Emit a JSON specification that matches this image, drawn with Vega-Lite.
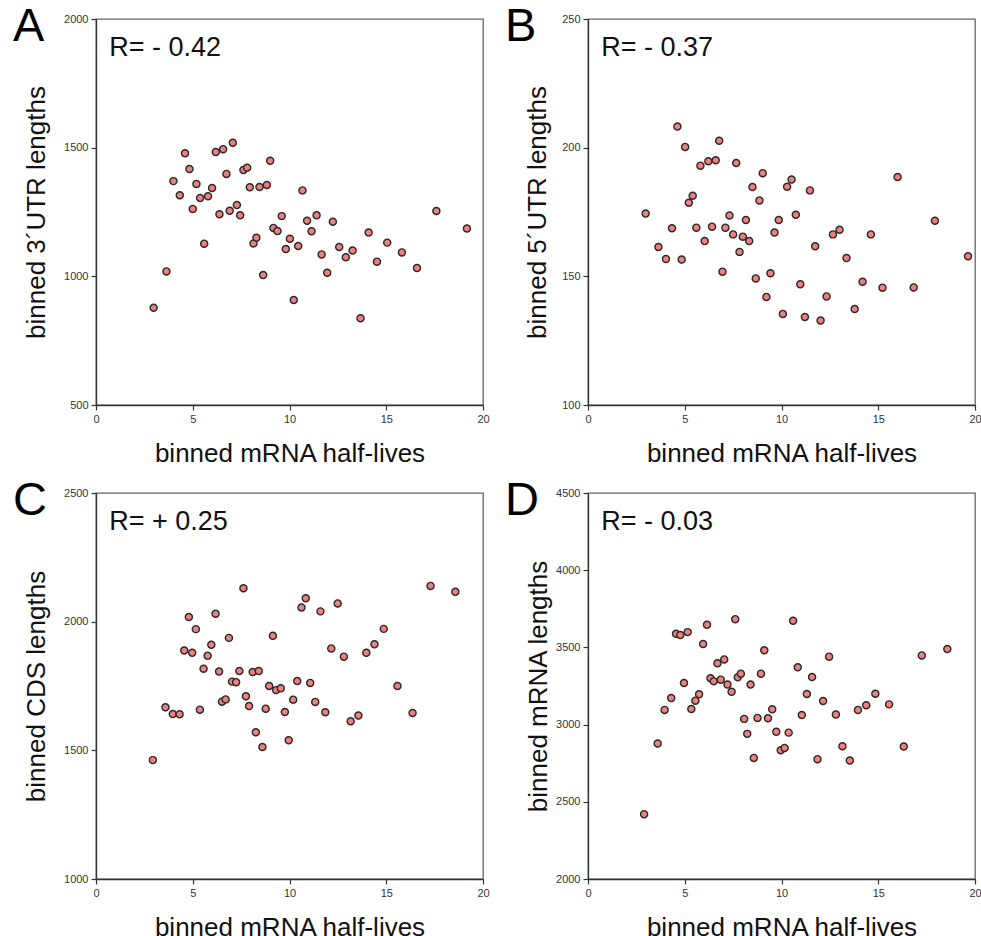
{
  "$schema": "https://vega.github.io/schema/vega-lite/v6.json",
  "background": "white",
  "padding": {"left": 12, "top": 2, "right": 0, "bottom": 0},
  "columns": 2,
  "spacing": {"column": 14, "row": 9},
  "config": {
    "font": "Liberation Sans",
    "view": {"stroke": "#666", "strokeWidth": 1.3},
    "axis": {
      "grid": false,
      "domainColor": "#333",
      "domainWidth": 1.3,
      "tickColor": "#333",
      "tickWidth": 1.2,
      "tickSize": 5,
      "labelFont": "Liberation Sans",
      "labelFontSize": 11,
      "labelColor": "#333",
      "labelPadding": 3,
      "labelFlush": false,
      "format": "d",
      "titleFont": "Liberation Sans",
      "titleFontSize": 26,
      "titleFontWeight": "normal",
      "titleColor": "#111"
    },
    "axisX": {"titlePadding": 16},
    "title": {"font": "Liberation Sans", "fontSize": 47, "fontWeight": "normal", "color": "#000", "anchor": "start", "frame": "group", "baseline": "top", "offset": 0, "dx": -83, "dy": 42}
  },
  "datasets": {
    "A": [
      {"halflife": 2.98, "length": 878}, {"halflife": 3.64, "length": 1019}, {"halflife": 4.0, "length": 1370}, {"halflife": 4.33, "length": 1315},
      {"halflife": 4.6, "length": 1478}, {"halflife": 4.83, "length": 1417}, {"halflife": 5.0, "length": 1262}, {"halflife": 5.19, "length": 1359},
      {"halflife": 5.38, "length": 1304}, {"halflife": 5.59, "length": 1127}, {"halflife": 5.79, "length": 1311}, {"halflife": 6.0, "length": 1343},
      {"halflife": 6.19, "length": 1483}, {"halflife": 6.38, "length": 1241}, {"halflife": 6.57, "length": 1494}, {"halflife": 6.74, "length": 1398},
      {"halflife": 6.91, "length": 1255}, {"halflife": 7.07, "length": 1519}, {"halflife": 7.28, "length": 1277}, {"halflife": 7.45, "length": 1237},
      {"halflife": 7.62, "length": 1413}, {"halflife": 7.81, "length": 1422}, {"halflife": 7.95, "length": 1346}, {"halflife": 8.14, "length": 1128},
      {"halflife": 8.29, "length": 1150}, {"halflife": 8.45, "length": 1347}, {"halflife": 8.64, "length": 1005}, {"halflife": 8.83, "length": 1355},
      {"halflife": 9.0, "length": 1449}, {"halflife": 9.17, "length": 1188}, {"halflife": 9.38, "length": 1176}, {"halflife": 9.6, "length": 1234},
      {"halflife": 9.81, "length": 1106}, {"halflife": 10.02, "length": 1146}, {"halflife": 10.22, "length": 908}, {"halflife": 10.45, "length": 1118},
      {"halflife": 10.67, "length": 1334}, {"halflife": 10.91, "length": 1216}, {"halflife": 11.14, "length": 1175}, {"halflife": 11.4, "length": 1237},
      {"halflife": 11.66, "length": 1085}, {"halflife": 11.95, "length": 1014}, {"halflife": 12.24, "length": 1212}, {"halflife": 12.57, "length": 1114},
      {"halflife": 12.91, "length": 1074}, {"halflife": 13.26, "length": 1100}, {"halflife": 13.67, "length": 837}, {"halflife": 14.09, "length": 1170},
      {"halflife": 14.52, "length": 1057}, {"halflife": 15.05, "length": 1131}, {"halflife": 15.81, "length": 1093}, {"halflife": 16.59, "length": 1032},
      {"halflife": 17.59, "length": 1254}, {"halflife": 19.17, "length": 1186}
    ],
    "B": [
      {"halflife": 2.98, "length": 174.4}, {"halflife": 3.64, "length": 161.4}, {"halflife": 4.03, "length": 156.7}, {"halflife": 4.34, "length": 168.7},
      {"halflife": 4.62, "length": 208.2}, {"halflife": 4.84, "length": 156.5}, {"halflife": 5.02, "length": 200.3}, {"halflife": 5.21, "length": 178.6},
      {"halflife": 5.41, "length": 181.3}, {"halflife": 5.6, "length": 168.9}, {"halflife": 5.81, "length": 193.0}, {"halflife": 6.03, "length": 163.7},
      {"halflife": 6.22, "length": 194.7}, {"halflife": 6.41, "length": 169.3}, {"halflife": 6.6, "length": 195.1}, {"halflife": 6.78, "length": 202.7},
      {"halflife": 6.95, "length": 151.8}, {"halflife": 7.1, "length": 168.9}, {"halflife": 7.31, "length": 173.6}, {"halflife": 7.5, "length": 166.3},
      {"halflife": 7.66, "length": 194.0}, {"halflife": 7.83, "length": 159.5}, {"halflife": 8.0, "length": 165.4}, {"halflife": 8.16, "length": 171.9},
      {"halflife": 8.33, "length": 163.7}, {"halflife": 8.5, "length": 184.7}, {"halflife": 8.67, "length": 149.2}, {"halflife": 8.86, "length": 179.5},
      {"halflife": 9.03, "length": 190.1}, {"halflife": 9.22, "length": 142.0}, {"halflife": 9.43, "length": 151.2}, {"halflife": 9.64, "length": 167.0},
      {"halflife": 9.86, "length": 171.9}, {"halflife": 10.07, "length": 135.4}, {"halflife": 10.29, "length": 184.8}, {"halflife": 10.52, "length": 187.6},
      {"halflife": 10.74, "length": 173.9}, {"halflife": 10.97, "length": 146.9}, {"halflife": 11.21, "length": 134.2}, {"halflife": 11.47, "length": 183.4},
      {"halflife": 11.74, "length": 161.7}, {"halflife": 12.02, "length": 132.8}, {"halflife": 12.33, "length": 142.2}, {"halflife": 12.66, "length": 166.3},
      {"halflife": 13.0, "length": 168.1}, {"halflife": 13.36, "length": 157.1}, {"halflife": 13.78, "length": 137.3}, {"halflife": 14.19, "length": 147.9},
      {"halflife": 14.62, "length": 166.3}, {"halflife": 15.22, "length": 145.6}, {"halflife": 16.0, "length": 188.6}, {"halflife": 16.83, "length": 145.7},
      {"halflife": 17.93, "length": 171.6}, {"halflife": 19.64, "length": 157.8}
    ],
    "C": [
      {"halflife": 2.94, "length": 1462}, {"halflife": 3.59, "length": 1667}, {"halflife": 3.97, "length": 1641}, {"halflife": 4.32, "length": 1640},
      {"halflife": 4.56, "length": 1888}, {"halflife": 4.8, "length": 2018}, {"halflife": 4.97, "length": 1879}, {"halflife": 5.16, "length": 1971},
      {"halflife": 5.37, "length": 1658}, {"halflife": 5.56, "length": 1817}, {"halflife": 5.77, "length": 1868}, {"halflife": 5.96, "length": 1910},
      {"halflife": 6.18, "length": 2031}, {"halflife": 6.36, "length": 1806}, {"halflife": 6.51, "length": 1689}, {"halflife": 6.7, "length": 1698},
      {"halflife": 6.87, "length": 1937}, {"halflife": 7.03, "length": 1767}, {"halflife": 7.24, "length": 1765}, {"halflife": 7.41, "length": 1808},
      {"halflife": 7.62, "length": 2130}, {"halflife": 7.75, "length": 1710}, {"halflife": 7.91, "length": 1672}, {"halflife": 8.1, "length": 1804},
      {"halflife": 8.26, "length": 1570}, {"halflife": 8.41, "length": 1808}, {"halflife": 8.6, "length": 1513}, {"halflife": 8.77, "length": 1662},
      {"halflife": 8.95, "length": 1750}, {"halflife": 9.14, "length": 1945}, {"halflife": 9.31, "length": 1734}, {"halflife": 9.55, "length": 1741},
      {"halflife": 9.76, "length": 1649}, {"halflife": 9.96, "length": 1539}, {"halflife": 10.19, "length": 1697}, {"halflife": 10.4, "length": 1769},
      {"halflife": 10.62, "length": 2055}, {"halflife": 10.84, "length": 2091}, {"halflife": 11.07, "length": 1762}, {"halflife": 11.33, "length": 1688},
      {"halflife": 11.6, "length": 2040}, {"halflife": 11.85, "length": 1648}, {"halflife": 12.16, "length": 1896}, {"halflife": 12.49, "length": 2071},
      {"halflife": 12.81, "length": 1864}, {"halflife": 13.16, "length": 1613}, {"halflife": 13.56, "length": 1635}, {"halflife": 13.97, "length": 1879},
      {"halflife": 14.39, "length": 1912}, {"halflife": 14.87, "length": 1972}, {"halflife": 15.58, "length": 1750}, {"halflife": 16.36, "length": 1645},
      {"halflife": 17.29, "length": 2139}, {"halflife": 18.57, "length": 2116}
    ],
    "D": [
      {"halflife": 2.9, "length": 2420}, {"halflife": 3.6, "length": 2877}, {"halflife": 3.96, "length": 3095}, {"halflife": 4.3, "length": 3172},
      {"halflife": 4.55, "length": 3588}, {"halflife": 4.77, "length": 3580}, {"halflife": 4.96, "length": 3269}, {"halflife": 5.15, "length": 3599},
      {"halflife": 5.34, "length": 3101}, {"halflife": 5.55, "length": 3155}, {"halflife": 5.74, "length": 3196}, {"halflife": 5.95, "length": 3522},
      {"halflife": 6.15, "length": 3646}, {"halflife": 6.33, "length": 3300}, {"halflife": 6.5, "length": 3280}, {"halflife": 6.69, "length": 3397},
      {"halflife": 6.86, "length": 3291}, {"halflife": 7.04, "length": 3422}, {"halflife": 7.21, "length": 3259}, {"halflife": 7.42, "length": 3213},
      {"halflife": 7.61, "length": 3683}, {"halflife": 7.74, "length": 3306}, {"halflife": 7.9, "length": 3330}, {"halflife": 8.07, "length": 3037},
      {"halflife": 8.23, "length": 2940}, {"halflife": 8.4, "length": 3259}, {"halflife": 8.57, "length": 2784}, {"halflife": 8.76, "length": 3043},
      {"halflife": 8.94, "length": 3330}, {"halflife": 9.11, "length": 3481}, {"halflife": 9.3, "length": 3041}, {"halflife": 9.52, "length": 3099},
      {"halflife": 9.73, "length": 2953}, {"halflife": 9.96, "length": 2834}, {"halflife": 10.16, "length": 2849}, {"halflife": 10.37, "length": 2948},
      {"halflife": 10.6, "length": 3672}, {"halflife": 10.84, "length": 3371}, {"halflife": 11.05, "length": 3062}, {"halflife": 11.31, "length": 3198},
      {"halflife": 11.58, "length": 3308}, {"halflife": 11.86, "length": 2776}, {"halflife": 12.15, "length": 3153}, {"halflife": 12.46, "length": 3440},
      {"halflife": 12.81, "length": 3065}, {"halflife": 13.15, "length": 2860}, {"halflife": 13.53, "length": 2767}, {"halflife": 13.95, "length": 3095},
      {"halflife": 14.38, "length": 3125}, {"halflife": 14.85, "length": 3200}, {"halflife": 15.56, "length": 3131}, {"halflife": 16.32, "length": 2858},
      {"halflife": 17.25, "length": 3448}, {"halflife": 18.57, "length": 3489}
    ]
  },
  "concat": [
    {
      "width": 387, "height": 386,
      "title": {"text": "A"},
      "layer": [
        {
          "data": {"name": "A"},
          "mark": {"type": "circle", "fill": "#F08080", "stroke": "#2a2a2a", "strokeWidth": 1.4, "size": 50, "opacity": 1},
          "encoding": {
            "x": {"field": "halflife", "type": "quantitative", "scale": {"domain": [0, 20], "nice": false}, "axis": {"values": [0, 5, 10, 15, 20], "title": "binned mRNA half-lives"}},
            "y": {"field": "length", "type": "quantitative", "scale": {"domain": [500, 2000], "nice": false, "zero": false}, "axis": {"values": [500, 1000, 1500, 2000], "title": "binned 3´UTR lengths", "titlePadding": 14}}
          }
        },
        {
          "data": {"values": [{}]},
          "mark": {"type": "text", "text": "R= - 0.42", "align": "left", "baseline": "alphabetic", "fontSize": 27, "color": "#111"},
          "encoding": {"x": {"datum": 0.68}, "y": {"datum": 1856}}
        }
      ]
    },
    {
      "width": 387, "height": 386,
      "title": {"text": "B"},
      "layer": [
        {
          "data": {"name": "B"},
          "mark": {"type": "circle", "fill": "#F08080", "stroke": "#2a2a2a", "strokeWidth": 1.4, "size": 50, "opacity": 1},
          "encoding": {
            "x": {"field": "halflife", "type": "quantitative", "scale": {"domain": [0, 20], "nice": false}, "axis": {"values": [0, 5, 10, 15, 20], "title": "binned mRNA half-lives"}},
            "y": {"field": "length", "type": "quantitative", "scale": {"domain": [100, 250], "nice": false, "zero": false}, "axis": {"values": [100, 150, 200, 250], "title": "binned 5´UTR lengths", "titlePadding": 11}}
          }
        },
        {
          "data": {"values": [{}]},
          "mark": {"type": "text", "text": "R= - 0.37", "align": "left", "baseline": "alphabetic", "fontSize": 27, "color": "#111"},
          "encoding": {"x": {"datum": 0.68}, "y": {"datum": 235.6}}
        }
      ]
    },
    {
      "width": 387, "height": 386,
      "title": {"text": "C"},
      "layer": [
        {
          "data": {"name": "C"},
          "mark": {"type": "circle", "fill": "#F08080", "stroke": "#2a2a2a", "strokeWidth": 1.4, "size": 50, "opacity": 1},
          "encoding": {
            "x": {"field": "halflife", "type": "quantitative", "scale": {"domain": [0, 20], "nice": false}, "axis": {"values": [0, 5, 10, 15, 20], "title": "binned mRNA half-lives"}},
            "y": {"field": "length", "type": "quantitative", "scale": {"domain": [1000, 2500], "nice": false, "zero": false}, "axis": {"values": [1000, 1500, 2000, 2500], "title": "binned CDS lengths", "titlePadding": 14}}
          }
        },
        {
          "data": {"values": [{}]},
          "mark": {"type": "text", "text": "R= + 0.25", "align": "left", "baseline": "alphabetic", "fontSize": 27, "color": "#111"},
          "encoding": {"x": {"datum": 0.68}, "y": {"datum": 2356}}
        }
      ]
    },
    {
      "width": 387, "height": 386,
      "title": {"text": "D"},
      "layer": [
        {
          "data": {"name": "D"},
          "mark": {"type": "circle", "fill": "#F08080", "stroke": "#2a2a2a", "strokeWidth": 1.4, "size": 50, "opacity": 1},
          "encoding": {
            "x": {"field": "halflife", "type": "quantitative", "scale": {"domain": [0, 20], "nice": false}, "axis": {"values": [0, 5, 10, 15, 20], "title": "binned mRNA half-lives"}},
            "y": {"field": "length", "type": "quantitative", "scale": {"domain": [2000, 4500], "nice": false, "zero": false}, "axis": {"values": [2000, 2500, 3000, 3500, 4000, 4500], "title": "binned mRNA lengths", "titlePadding": 4}}
          }
        },
        {
          "data": {"values": [{}]},
          "mark": {"type": "text", "text": "R= - 0.03", "align": "left", "baseline": "alphabetic", "fontSize": 27, "color": "#111"},
          "encoding": {"x": {"datum": 0.68}, "y": {"datum": 4260}}
        }
      ]
    }
  ]
}
